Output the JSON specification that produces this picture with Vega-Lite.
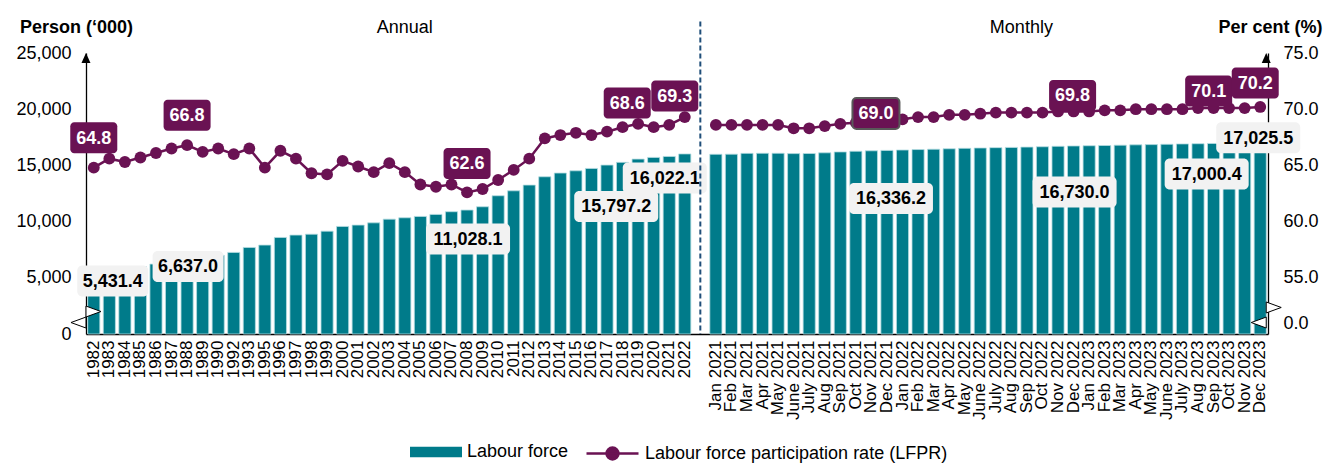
{
  "$schema": "https://vega.github.io/schema/vega-lite/v6.json",
  "width": 1182,
  "height": 281,
  "autosize": {"type": "none"},
  "padding": {"left": 86, "top": 53, "right": 60, "bottom": 129},
  "background": "white",
  "config": {
    "font": "Liberation Sans",
    "view": {"stroke": null},
    "axis": {"labelFont": "Liberation Sans", "titleFont": "Liberation Sans", "grid": false},
    "legend": {"labelFont": "Liberation Sans"}
  },
  "params": [
    {"name": "lfOff", "value": {"1982": [19, 8], "1988": [1, 7], "2008": [1, 29], "2021": [-53, 50], "2022": [-20, 24], "Dec 2021": [4, 48], "Dec 2022": [1, 46], "Nov 2023": [-38, 31], "Dec 2023": [-2, -5]}},
    {"name": "prOff", "value": {"1982": [0, -30], "1988": [0, -30], "2008": [0, -29], "2021": [-42, -22], "2022": [-10, -21], "Dec 2021": [-11, -7], "Dec 2022": [-1, -16], "Nov 2023": [-36, -17], "Dec 2023": [-5, -24]}}
  ],
  "data": {
    "values": [
      {"cat": "1982", "period": "Annual", "lf": 5431.4, "lfpr": 64.8},
      {"cat": "1983", "period": "Annual", "lf": 5670, "lfpr": 65.6},
      {"cat": "1984", "period": "Annual", "lf": 5860, "lfpr": 65.3},
      {"cat": "1985", "period": "Annual", "lf": 5990, "lfpr": 65.7},
      {"cat": "1986", "period": "Annual", "lf": 6220, "lfpr": 66.1},
      {"cat": "1987", "period": "Annual", "lf": 6460, "lfpr": 66.5},
      {"cat": "1988", "period": "Annual", "lf": 6637.0, "lfpr": 66.8},
      {"cat": "1989", "period": "Annual", "lf": 6780, "lfpr": 66.2},
      {"cat": "1990", "period": "Annual", "lf": 7000, "lfpr": 66.5},
      {"cat": "1992", "period": "Annual", "lf": 7260, "lfpr": 66.0},
      {"cat": "1993", "period": "Annual", "lf": 7700, "lfpr": 66.5},
      {"cat": "1995", "period": "Annual", "lf": 7910, "lfpr": 64.8},
      {"cat": "1996", "period": "Annual", "lf": 8590, "lfpr": 66.3},
      {"cat": "1997", "period": "Annual", "lf": 8800, "lfpr": 65.6},
      {"cat": "1998", "period": "Annual", "lf": 8880, "lfpr": 64.3},
      {"cat": "1999", "period": "Annual", "lf": 9150, "lfpr": 64.2},
      {"cat": "2000", "period": "Annual", "lf": 9570, "lfpr": 65.4},
      {"cat": "2001", "period": "Annual", "lf": 9690, "lfpr": 64.9},
      {"cat": "2002", "period": "Annual", "lf": 9890, "lfpr": 64.4},
      {"cat": "2003", "period": "Annual", "lf": 10220, "lfpr": 65.2},
      {"cat": "2004", "period": "Annual", "lf": 10340, "lfpr": 64.4},
      {"cat": "2005", "period": "Annual", "lf": 10460, "lfpr": 63.3},
      {"cat": "2006", "period": "Annual", "lf": 10640, "lfpr": 63.1},
      {"cat": "2007", "period": "Annual", "lf": 10880, "lfpr": 63.3},
      {"cat": "2008", "period": "Annual", "lf": 11028.1, "lfpr": 62.6},
      {"cat": "2009", "period": "Annual", "lf": 11320, "lfpr": 62.9},
      {"cat": "2010", "period": "Annual", "lf": 12300, "lfpr": 63.7},
      {"cat": "2011", "period": "Annual", "lf": 12740, "lfpr": 64.6},
      {"cat": "2012", "period": "Annual", "lf": 13250, "lfpr": 65.6},
      {"cat": "2013", "period": "Annual", "lf": 13990, "lfpr": 67.4},
      {"cat": "2014", "period": "Annual", "lf": 14320, "lfpr": 67.7},
      {"cat": "2015", "period": "Annual", "lf": 14520, "lfpr": 67.9},
      {"cat": "2016", "period": "Annual", "lf": 14730, "lfpr": 67.7},
      {"cat": "2017", "period": "Annual", "lf": 15030, "lfpr": 68.0},
      {"cat": "2018", "period": "Annual", "lf": 15270, "lfpr": 68.4},
      {"cat": "2019", "period": "Annual", "lf": 15560, "lfpr": 68.7},
      {"cat": "2020", "period": "Annual", "lf": 15710, "lfpr": 68.4},
      {"cat": "2021", "period": "Annual", "lf": 15797.2, "lfpr": 68.6},
      {"cat": "2022", "period": "Annual", "lf": 16022.1, "lfpr": 69.3},
      {"cat": "Jan 2021", "period": "Monthly", "lf": 15990, "lfpr": 68.6},
      {"cat": "Feb 2021", "period": "Monthly", "lf": 16000, "lfpr": 68.6},
      {"cat": "Mar 2021", "period": "Monthly", "lf": 16070, "lfpr": 68.6},
      {"cat": "Apr 2021", "period": "Monthly", "lf": 16080, "lfpr": 68.6},
      {"cat": "May 2021", "period": "Monthly", "lf": 16080, "lfpr": 68.6},
      {"cat": "June 2021", "period": "Monthly", "lf": 16050, "lfpr": 68.3},
      {"cat": "July 2021", "period": "Monthly", "lf": 16060, "lfpr": 68.3},
      {"cat": "Aug 2021", "period": "Monthly", "lf": 16120, "lfpr": 68.5},
      {"cat": "Sep 2021", "period": "Monthly", "lf": 16200, "lfpr": 68.7},
      {"cat": "Oct 2021", "period": "Monthly", "lf": 16260, "lfpr": 68.8},
      {"cat": "Nov 2021", "period": "Monthly", "lf": 16300, "lfpr": 68.9},
      {"cat": "Dec 2021", "period": "Monthly", "lf": 16336.2, "lfpr": 69.0},
      {"cat": "Jan 2022", "period": "Monthly", "lf": 16370, "lfpr": 69.1},
      {"cat": "Feb 2022", "period": "Monthly", "lf": 16410, "lfpr": 69.3},
      {"cat": "Mar 2022", "period": "Monthly", "lf": 16440, "lfpr": 69.3},
      {"cat": "Apr 2022", "period": "Monthly", "lf": 16480, "lfpr": 69.5},
      {"cat": "May 2022", "period": "Monthly", "lf": 16520, "lfpr": 69.5},
      {"cat": "June 2022", "period": "Monthly", "lf": 16550, "lfpr": 69.6},
      {"cat": "July 2022", "period": "Monthly", "lf": 16580, "lfpr": 69.7},
      {"cat": "Aug 2022", "period": "Monthly", "lf": 16600, "lfpr": 69.7},
      {"cat": "Sep 2022", "period": "Monthly", "lf": 16630, "lfpr": 69.7},
      {"cat": "Oct 2022", "period": "Monthly", "lf": 16660, "lfpr": 69.7},
      {"cat": "Nov 2022", "period": "Monthly", "lf": 16700, "lfpr": 69.8},
      {"cat": "Dec 2022", "period": "Monthly", "lf": 16730.0, "lfpr": 69.8},
      {"cat": "Jan 2023", "period": "Monthly", "lf": 16750, "lfpr": 69.8},
      {"cat": "Feb 2023", "period": "Monthly", "lf": 16770, "lfpr": 69.9},
      {"cat": "Mar 2023", "period": "Monthly", "lf": 16800, "lfpr": 69.9},
      {"cat": "Apr 2023", "period": "Monthly", "lf": 16830, "lfpr": 70.0},
      {"cat": "May 2023", "period": "Monthly", "lf": 16850, "lfpr": 70.0},
      {"cat": "June 2023", "period": "Monthly", "lf": 16880, "lfpr": 70.0},
      {"cat": "July 2023", "period": "Monthly", "lf": 16910, "lfpr": 70.0},
      {"cat": "Aug 2023", "period": "Monthly", "lf": 16930, "lfpr": 70.1},
      {"cat": "Sep 2023", "period": "Monthly", "lf": 16950, "lfpr": 70.1},
      {"cat": "Oct 2023", "period": "Monthly", "lf": 16980, "lfpr": 70.1},
      {"cat": "Nov 2023", "period": "Monthly", "lf": 17000.4, "lfpr": 70.1},
      {"cat": "Dec 2023", "period": "Monthly", "lf": 17025.5, "lfpr": 70.2}
    ]
  },
  "layer": [
    {
      "layer": [
        {
          "mark": {"type": "bar", "stroke": "#b5dde2", "strokeWidth": 0.8},
          "encoding": {
            "x": {
              "field": "cat", "type": "nominal", "sort": null,
              "scale": {
                "domain": ["1982","1983","1984","1985","1986","1987","1988","1989","1990","1992","1993","1995","1996","1997","1998","1999","2000","2001","2002","2003","2004","2005","2006","2007","2008","2009","2010","2011","2012","2013","2014","2015","2016","2017","2018","2019","2020","2021","2022","gap","Jan 2021","Feb 2021","Mar 2021","Apr 2021","May 2021","June 2021","July 2021","Aug 2021","Sep 2021","Oct 2021","Nov 2021","Dec 2021","Jan 2022","Feb 2022","Mar 2022","Apr 2022","May 2022","June 2022","July 2022","Aug 2022","Sep 2022","Oct 2022","Nov 2022","Dec 2022","Jan 2023","Feb 2023","Mar 2023","Apr 2023","May 2023","June 2023","July 2023","Aug 2023","Sep 2023","Oct 2023","Nov 2023","Dec 2023"],
                "paddingInner": 0.22, "paddingOuter": 0.11
              },
              "axis": {
                "title": null, "labelAngle": -90, "labelFontSize": 17, "labelColor": "#000",
                "ticks": false, "labelPadding": 6, "labelOverlap": false, "labelBound": false,
                "domainColor": "#000", "domainWidth": 1.3,
                "labelExpr": "datum.value == 'gap' ? '' : datum.value"
              }
            },
            "y": {
              "field": "lf", "type": "quantitative",
              "scale": {"domain": [0, 25000], "nice": false, "zero": true},
              "axis": {
                "title": "Person (‘000)", "values": [0, 5000, 10000, 15000, 20000, 25000], "format": ",d",
                "ticks": false, "domainColor": "#000", "domainWidth": 1.3,
                "labelFontSize": 18, "labelColor": "#000", "labelPadding": 15,
                "titleAngle": 0, "titleX": -10, "titleY": -26, "titleAlign": "center", "titleBaseline": "middle",
                "titleFontSize": 18, "titleFontWeight": "bold", "titleColor": "#000"
              }
            },
            "fill": {
              "datum": "Labour force", "type": "nominal",
              "scale": {"domain": ["Labour force"], "range": ["#007b8a"]},
              "legend": {
                "title": null, "orient": "none", "direction": "horizontal", "legendX": 324, "legendY": 373,
                "labelFontSize": 18, "labelColor": "#000", "labelOffset": 5, "labelLimit": 0,
                "symbolSize": 2704, "symbolType": "M-1,-0.2L1,-0.2L1,0.2L-1,0.2Z",
                "symbolStrokeWidth": 0, "symbolOpacity": 1
              }
            }
          }
        },
        {
          "transform": [{"filter": "isValid(lfOff[datum.cat])"}],
          "mark": {
            "type": "bar", "color": "#f2f2f2", "cornerRadius": 5,
            "xOffset": {"expr": "lfOff[datum.cat][0]"},
            "yOffset": {"expr": "lfOff[datum.cat][1] - 15.5"},
            "y2Offset": {"expr": "lfOff[datum.cat][1] + 15.5"}
          },
          "encoding": {
            "x": {"field": "cat", "type": "nominal", "sort": null},
            "y": {"field": "lf", "type": "quantitative"},
            "y2": {"field": "lf"},
            "size": {"condition": {"test": "datum.lf >= 10000", "value": 84}, "value": 71}
          }
        },
        {
          "transform": [{"filter": "isValid(lfOff[datum.cat])"}],
          "mark": {
            "type": "text", "fontSize": 18, "fontWeight": "bold", "color": "#000",
            "align": "center", "baseline": "middle",
            "dx": {"expr": "lfOff[datum.cat][0]"},
            "dy": {"expr": "lfOff[datum.cat][1] + 1"}
          },
          "encoding": {
            "x": {"field": "cat", "type": "nominal", "sort": null},
            "y": {"field": "lf", "type": "quantitative"},
            "text": {"field": "lf", "type": "quantitative", "format": ",.1f"}
          }
        },
        {
          "data": {"values": [{}]},
          "mark": {"type": "rule", "color": "#1f4e79", "strokeWidth": 2, "strokeDash": [5, 3]},
          "encoding": {
            "x": {"datum": "gap", "type": "nominal"},
            "y": {"datum": 27800, "type": "quantitative"},
            "y2": {"datum": 0}
          }
        },
        {
          "data": {"values": [{}]},
          "mark": {"type": "point", "shape": "M0,0L0.75,1.67L-0.75,1.67Z", "size": 144, "filled": true, "color": "#000", "opacity": 1, "xOffset": -7.8},
          "encoding": {
            "x": {"datum": "1982", "type": "nominal"},
            "y": {"datum": 25000, "type": "quantitative"}
          }
        },
        {
          "data": {"values": [{}]},
          "mark": {"type": "point", "shape": "M0,-0.73L2,0L0,0.73Z", "size": 225, "filled": true, "fill": "#fff", "stroke": "#000", "strokeWidth": 1, "opacity": 1, "xOffset": -7.8},
          "encoding": {
            "x": {"datum": "1982", "type": "nominal"},
            "y": {"datum": 2000, "type": "quantitative"}
          }
        },
        {
          "data": {"values": [{}]},
          "mark": {"type": "point", "shape": "M0,-0.73L-2,0L0,0.73Z", "size": 225, "filled": true, "fill": "#fff", "stroke": "#000", "strokeWidth": 1, "opacity": 1, "xOffset": -7.8},
          "encoding": {
            "x": {"datum": "1982", "type": "nominal"},
            "y": {"datum": 1020, "type": "quantitative"}
          }
        },
        {
          "data": {"values": [{}]},
          "mark": {"type": "text", "text": "Annual", "fontSize": 18, "color": "#000", "align": "center", "baseline": "middle"},
          "encoding": {
            "x": {"datum": "2004", "type": "nominal"},
            "y": {"datum": 27224, "type": "quantitative"}
          }
        },
        {
          "data": {"values": [{}]},
          "mark": {"type": "text", "text": "Monthly", "fontSize": 18, "color": "#000", "align": "center", "baseline": "middle", "xOffset": 10},
          "encoding": {
            "x": {"datum": "Aug 2022", "type": "nominal"},
            "y": {"datum": 27224, "type": "quantitative"}
          }
        }
      ]
    },
    {
      "layer": [
        {
          "mark": {"type": "line", "strokeWidth": 2.5},
          "encoding": {
            "x": {"field": "cat", "type": "nominal", "sort": null},
            "y": {
              "field": "lfpr", "type": "quantitative",
              "scale": {"domain": [50, 75], "nice": false, "zero": false},
              "axis": {
                "orient": "right", "title": "Per cent (%)",
                "values": [50.9, 55, 60, 65, 70, 75],
                "labelExpr": "datum.value < 51 ? '0.0' : format(datum.value, '.1f')",
                "ticks": false, "domainColor": "#000", "domainWidth": 1.3,
                "labelFontSize": 18, "labelColor": "#000", "labelPadding": 15,
                "titleAngle": 0, "titleX": 2, "titleY": -26, "titleAlign": "center", "titleBaseline": "middle",
                "titleFontSize": 18, "titleFontWeight": "bold", "titleColor": "#000"
              }
            },
            "detail": {"field": "period"},
            "order": {"value": null},
            "stroke": {
              "datum": "Labour force participation rate (LFPR)", "type": "nominal",
              "scale": {"domain": ["Labour force participation rate (LFPR)"], "range": ["#6a1253"]},
              "legend": {
                "title": null, "orient": "none", "direction": "horizontal", "legendX": 499, "legendY": 373,
                "labelFontSize": 18, "labelColor": "#000", "labelOffset": 5, "labelLimit": 0,
                "symbolSize": 2704, "symbolType": "M-1,0L1,0M-0.23,0A0.23,0.23,0,1,1,0.23,0A0.23,0.23,0,1,1,-0.23,0Z",
                "symbolStrokeWidth": 2.5, "symbolFillColor": "#6a1253", "symbolOpacity": 1
              }
            }
          }
        },
        {
          "mark": {"type": "point", "filled": true, "size": 140, "opacity": 1, "color": "#6a1253"},
          "encoding": {
            "x": {"field": "cat", "type": "nominal", "sort": null},
            "y": {"field": "lfpr", "type": "quantitative"}
          }
        },
        {
          "transform": [{"filter": "isValid(prOff[datum.cat])"}],
          "mark": {
            "type": "bar", "color": "#6a1253", "cornerRadius": 4,
            "stroke": "#595959", "strokeWidth": 2,
            "xOffset": {"expr": "prOff[datum.cat][0]"},
            "yOffset": {"expr": "prOff[datum.cat][1] - 15.5"},
            "y2Offset": {"expr": "prOff[datum.cat][1] + 15.5"}
          },
          "encoding": {
            "x": {"field": "cat", "type": "nominal", "sort": null},
            "y": {"field": "lfpr", "type": "quantitative"},
            "y2": {"field": "lfpr"},
            "size": {"value": 47},
            "strokeOpacity": {"condition": {"test": "datum.cat == 'Dec 2021'", "value": 1}, "value": 0}
          }
        },
        {
          "transform": [{"filter": "isValid(prOff[datum.cat])"}],
          "mark": {
            "type": "text", "fontSize": 18, "fontWeight": "bold", "color": "#fff",
            "align": "center", "baseline": "middle",
            "dx": {"expr": "prOff[datum.cat][0]"},
            "dy": {"expr": "prOff[datum.cat][1] + 1"}
          },
          "encoding": {
            "x": {"field": "cat", "type": "nominal", "sort": null},
            "y": {"field": "lfpr", "type": "quantitative"},
            "text": {"field": "lfpr", "type": "quantitative", "format": ".1f"}
          }
        },
        {
          "data": {"values": [{}]},
          "mark": {"type": "point", "shape": "M0,0L0.75,1.67L-0.75,1.67Z", "size": 144, "filled": true, "color": "#000", "opacity": 1, "xOffset": 6},
          "encoding": {
            "x": {"datum": "Dec 2023", "type": "nominal"},
            "y": {"datum": 75, "type": "quantitative"}
          }
        },
        {
          "data": {"values": [{}]},
          "mark": {"type": "point", "shape": "M0,-0.73L2,0L0,0.73Z", "size": 225, "filled": true, "fill": "#fff", "stroke": "#000", "strokeWidth": 1, "opacity": 1, "xOffset": 6},
          "encoding": {
            "x": {"datum": "Dec 2023", "type": "nominal"},
            "y": {"datum": 52.36, "type": "quantitative"}
          }
        },
        {
          "data": {"values": [{}]},
          "mark": {"type": "point", "shape": "M0,-0.73L-2,0L0,0.73Z", "size": 225, "filled": true, "fill": "#fff", "stroke": "#000", "strokeWidth": 1, "opacity": 1, "xOffset": 6},
          "encoding": {
            "x": {"datum": "Dec 2023", "type": "nominal"},
            "y": {"datum": 51.02, "type": "quantitative"}
          }
        }
      ]
    }
  ],
  "resolve": {"scale": {"y": "independent"}}
}
